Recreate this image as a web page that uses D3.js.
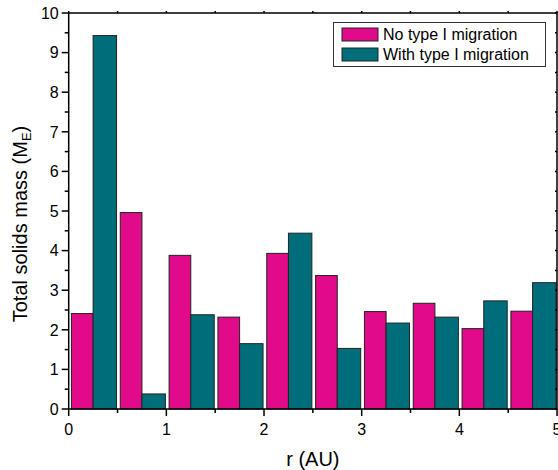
<!DOCTYPE html>
<html><head><meta charset="utf-8">
<script src="https://cdn.jsdelivr.net/npm/d3@7/dist/d3.min.js"></script>
<style>
html,body{margin:0;padding:0;background:#fff;}
svg{display:block;font-family:"Liberation Sans",Arial,sans-serif;}
</style></head>
<body>
<script>
// ---- data ----
const binStarts = [0, 0.5, 1, 1.5, 2, 2.5, 3, 3.5, 4, 4.5];
const noMigration = [2.41, 4.96, 3.88, 2.32, 3.93, 3.37, 2.46, 2.67, 2.03, 2.47];
const withMigration = [9.43, 0.38, 2.38, 1.65, 4.44, 1.53, 2.17, 2.32, 2.73, 3.19];
const seriesNames = ["No type I migration", "With type I migration"];
const xTicks = [0, 1, 2, 3, 4, 5];
const yTicks = [0, 1, 2, 3, 4, 5, 6, 7, 8, 9, 10];

const W = 558, H = 470;
const m = {left: 68.7, right: 1, top: 13, bottom: 61};
const colors = ["#E10A8A", "#006E7A"];

const svg = d3.select("body").append("svg").attr("width", W).attr("height", H);
const x = d3.scaleLinear().domain([0, 5]).range([m.left, W - m.right]);
const y = d3.scaleLinear().domain([0, 10]).range([H - m.bottom, m.top]);

// bars
const g = svg.append("g");
const rows = binStarts.map((b, i) => ({b, v0: noMigration[i], v1: withMigration[i]}));
g.selectAll("rect.s0").data(rows).join("rect").attr("class", "s0")
  .attr("x", d => x(d.b + 0.028)).attr("width", d => x(d.b + 0.25) - x(d.b + 0.028))
  .attr("y", d => y(d.v0)).attr("height", d => y(0) - y(d.v0))
  .attr("fill", colors[0]).attr("stroke", "#222").attr("stroke-width", 1);
g.selectAll("rect.s1").data(rows).join("rect").attr("class", "s1")
  .attr("x", d => x(d.b + 0.25)).attr("width", d => x(d.b + 0.49) - x(d.b + 0.25))
  .attr("y", d => y(d.v1)).attr("height", d => y(0) - y(d.v1))
  .attr("fill", colors[1]).attr("stroke", "#222").attr("stroke-width", 1);

// axes
const fs = 16;
const xMinor = d3.range(0, 5.01, 0.5);
const yMinor = d3.range(0, 10.01, 0.5);
const ax = svg.append("g").attr("stroke", "#000").attr("stroke-width", 1.5);
// bottom
ax.selectAll("line.xb").data(xMinor).join("line")
  .attr("x1", d => x(d)).attr("x2", d => x(d))
  .attr("y1", y(0)).attr("y2", d => y(0) + (Number.isInteger(d) ? 7 : 4));
// top
ax.selectAll("line.xt").data(xMinor).join("line")
  .attr("x1", d => x(d)).attr("x2", d => x(d))
  .attr("y1", y(10)).attr("y2", y(10) - 2);
// left
ax.selectAll("line.yl").data(yMinor).join("line")
  .attr("y1", d => y(d)).attr("y2", d => y(d))
  .attr("x1", x(0)).attr("x2", d => x(0) - (Number.isInteger(d) ? 7 : 4));
// right
ax.selectAll("line.yr").data(yMinor).join("line")
  .attr("y1", d => y(d)).attr("y2", d => y(d))
  .attr("x1", x(5)).attr("x2", x(5) - 2);
// frame
svg.append("rect").attr("x", x(0)).attr("y", y(10))
  .attr("width", x(5) - x(0)).attr("height", y(0) - y(10))
  .attr("fill", "none").attr("stroke", "#000").attr("stroke-width", 1.5);

// tick labels
svg.selectAll("text.xl").data(xTicks).join("text")
  .attr("x", d => x(d)).attr("y", y(0) + 26).attr("text-anchor", "middle")
  .attr("font-size", fs).attr("fill", "#000").text(d => d);
svg.selectAll("text.yl").data(yTicks).join("text")
  .attr("x", x(0) - 10).attr("y", d => y(d)).attr("dy", "0.36em").attr("text-anchor", "end")
  .attr("font-size", fs).attr("fill", "#000").text(d => d);

// axis titles
svg.append("text").attr("x", (x(0) + x(5)) / 2).attr("y", 466).attr("text-anchor", "middle")
  .attr("font-size", 20).attr("fill", "#000").text("r (AU)");
const yt = svg.append("text").attr("transform", `translate(27,${224}) rotate(-90)`)
  .attr("text-anchor", "middle").attr("font-size", 20).attr("fill", "#000");
yt.append("tspan").text("Total solids mass (M");
yt.append("tspan").attr("font-size", 13).attr("dy", 4).text("E");
yt.append("tspan").attr("dy", -4).text(")");

// legend
const lg = svg.append("g");
lg.append("rect").attr("x", 333.5).attr("y", 22.5).attr("width", 212).attr("height", 44)
  .attr("fill", "#fff").attr("stroke", "#333").attr("stroke-width", 1);
seriesNames.forEach((n, i) => {
  lg.append("rect").attr("x", 342).attr("y", 28 + i * 20).attr("width", 36).attr("height", 13)
    .attr("fill", colors[i]).attr("stroke", "#222").attr("stroke-width", 1);
  lg.append("text").attr("x", 383).attr("y", 40 + i * 20).attr("font-size", fs)
    .attr("fill", "#000").text(n);
});
</script>
</body></html>
